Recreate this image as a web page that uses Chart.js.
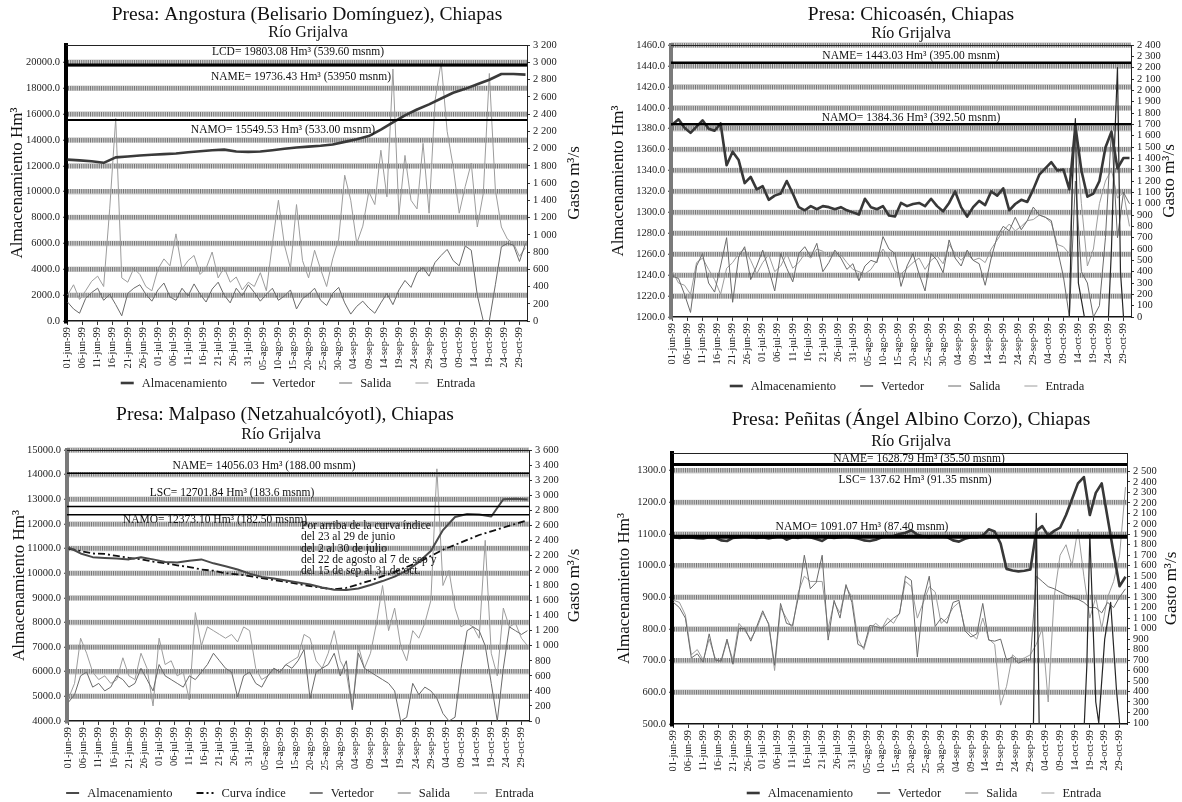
<!DOCTYPE html>
<html lang="es">
<head>
<meta charset="utf-8">
<title>Presas del Río Grijalva, junio-octubre 1999</title>
<script src="https://cdn.jsdelivr.net/npm/chart.js@4.4.1/dist/chart.umd.min.js"></script>
<style>
  html, body { margin: 0; padding: 0; background: #fff; overflow: hidden; }
  canvas { position: absolute; }
</style>
</head>
<body>
<canvas id="angostura" width="591" height="401" style="left:0;top:0"></canvas>
<canvas id="chicoasen" width="591" height="401" style="left:591px;top:0"></canvas>
<canvas id="malpaso" width="591" height="401" style="left:0;top:401px"></canvas>
<canvas id="penitas" width="591" height="401" style="left:591px;top:401px"></canvas>
<script>
const SERIF = '"Liberation Serif", "DejaVu Serif", serif';

// x axis: one tick every 5 days from 01-jun-99 (day 0) to 29-oct-99 (day 150)
const dateTicks = ['01-jun-99', '06-jun-99', '11-jun-99', '16-jun-99', '21-jun-99', '26-jun-99',
  '01-jul-99', '06-jul-99', '11-jul-99', '16-jul-99', '21-jul-99', '26-jul-99', '31-jul-99',
  '05-ago-99', '10-ago-99', '15-ago-99', '20-ago-99', '25-ago-99', '30-ago-99',
  '04-sep-99', '09-sep-99', '14-sep-99', '19-sep-99', '24-sep-99', '29-sep-99',
  '04-oct-99', '09-oct-99', '14-oct-99', '19-oct-99', '24-oct-99', '29-oct-99'];

// ---------- Angostura ----------
const angYTicks = [0, 2000, 4000, 6000, 8000, 10000, 12000, 14000, 16000, 18000, 20000];
const angGastoTicks = [0, 200, 400, 600, 800, 1000, 1200, 1400, 1600, 1800, 2000, 2200, 2400, 2600, 2800, 3000, 3200];
const angLevelTexts = ['LCD= 19803.08 Hm³ (539.60 msnm)', 'NAME= 19736.43 Hm³ (53950 msnm)', 'NAMO= 15549.53 Hm³ (533.00 msnm)'];
const angLevelValues = [19803.08, 19736.43, 15549.53];
// storage every 4 days (day 0..152)
const angAlm = [12480, 12420, 12350, 12230, 12650, 12720, 12800, 12850, 12900, 12950,
  13050, 13120, 13200, 13250, 13100, 13080, 13100, 13200, 13320, 13420,
  13480, 13550, 13650, 13850, 14050, 14300, 14800, 15350, 15900, 16350,
  16750, 17200, 17650, 17950, 18300, 18650, 19100, 19100, 19050];
const angVertDays = [0, 152];
const angVert = [0, 0];
// flows every 2 days (day 0..152)
const angSal = [220, 140, 90, 260, 330, 380, 240, 310, 190, 60,
  320, 380, 420, 310, 230, 360, 440, 280, 240, 380,
  290, 430, 310, 220, 370, 450, 300, 210, 380, 290,
  420, 330, 230, 310, 380, 240, 290, 360, 140, 260,
  310, 380, 240, 180, 320, 390, 210, 80, 170, 230,
  150, 90, 210, 320, 190, 360, 470, 390, 560, 620,
  520, 680, 760, 830, 700, 640, 870, 820, 300, 0,
  0, 420, 860, 900, 880, 690, 900];
const angEnt = [300, 420, 250, 350, 460, 520, 400, 1300, 2350, 500,
  450, 610, 540, 400, 350, 600, 720, 640, 1010, 600,
  700, 760, 540, 610, 800, 500, 620, 450, 510, 360,
  450, 400, 560, 350, 900, 1400, 880, 610, 1350, 700,
  500, 820, 600, 400, 720, 950, 1690, 1400, 900, 1100,
  1500, 1350, 1980, 1440, 2920, 1230, 1920, 1400, 1300, 2060,
  1250, 2560, 3000, 2200, 1790, 1250, 1560, 1830, 1090, 1480,
  2870, 1520, 1090, 950, 900, 750, 850];

// ---------- Chicoasén ----------
const chiYTicks = [1200, 1220, 1240, 1260, 1280, 1300, 1320, 1340, 1360, 1380, 1400, 1420, 1440, 1460];
const chiGastoTicks = [0, 100, 200, 300, 400, 500, 600, 700, 800, 900, 1000, 1100, 1200, 1300, 1400, 1500,
  1600, 1700, 1800, 1900, 2000, 2100, 2200, 2300, 2400];
const chiLevelTexts = ['NAME= 1443.03 Hm³ (395.00 msnm)', 'NAMO= 1384.36 Hm³ (392.50 msnm)'];
const chiLevelValues = [1443.03, 1384.36];
const chiAlm = [1384, 1389, 1381, 1376, 1382, 1388, 1380, 1378, 1385, 1345,
  1358, 1350, 1328, 1334, 1322, 1325, 1312, 1316, 1318, 1330,
  1318, 1305, 1302, 1306, 1303, 1306, 1305, 1303, 1305, 1302,
  1300, 1298, 1313, 1305, 1303, 1306, 1297, 1296, 1309, 1306,
  1308, 1309, 1306, 1313, 1306, 1301, 1309, 1320, 1305, 1296,
  1305, 1311, 1307, 1320, 1316, 1323, 1302, 1308, 1312, 1310,
  1322, 1336, 1342, 1348, 1340, 1341, 1322, 1383, 1340, 1315,
  1318, 1330, 1362, 1377, 1342, 1352, 1352];
const chiVertDays = [0, 132, 133, 134, 135, 137, 145, 146, 147, 148, 149, 150, 152];
const chiVert = [0, 0, 1200, 1750, 300, 0, 0, 600, 1500, 2200, 400, 0, 0];
const chiSal = [360, 340, 200, 40, 450, 560, 300, 220, 450, 700,
  130, 530, 620, 330, 450, 590, 420, 230, 560, 430,
  310, 560, 620, 530, 650, 400, 480, 590, 520, 420,
  470, 320, 450, 500, 480, 710, 600, 560, 270, 450,
  560, 380, 230, 560, 500, 390, 680, 520, 450, 590,
  500, 470, 280, 520, 710, 800, 760, 880, 770, 850,
  970, 900, 880, 850, 600, 360, 0, 1200, 400, 300,
  0, 100, 700, 1650, 700, 1100, 1000];
const chiEnt = [400, 300, 280, 200, 480, 520, 420, 330, 200, 430,
  480, 560, 600, 500, 380, 480, 550, 400, 450, 560,
  430, 480, 560, 520, 600, 580, 530, 560, 550, 480,
  420, 400, 380, 420, 500, 600, 520, 400, 380, 430,
  480, 520, 420, 500, 540, 470, 640, 560, 500, 560,
  500, 520, 480, 600, 680, 760, 820, 760, 800, 850,
  860, 900, 880, 830, 640, 620, 560, 1700, 1000, 450,
  600, 1000, 1200, 1300, 1050, 1100, 800];

// ---------- Malpaso ----------
const malYTicks = [4000, 5000, 6000, 7000, 8000, 9000, 10000, 11000, 12000, 13000, 14000, 15000];
const malGastoTicks = [0, 200, 400, 600, 800, 1000, 1200, 1400, 1600, 1800, 2000, 2200, 2400, 2600, 2800, 3000, 3200, 3400, 3600];
const malLevelTexts = ['NAME= 14056.03 Hm³ (188.00 msnm)', 'LSC= 12701.84 Hm³ (183.6 msnm)', 'NAMO= 12373.10 Hm³ (182.50 msnm)'];
const malLevelValues = [14056.03, 12701.84, 12373.10];
const malNotes = ['Por arriba de la curva índice', 'del 23 al 29 de junio', 'del 2 al 30 de julio',
  'del 22 de agosto al 7 de sep y', 'del 15 de sep al 31 de oct.'];
// storage and index curve every 4 days
const malAlm = [11050, 10800, 10650, 10620, 10600, 10560, 10650, 10560, 10450, 10430,
  10500, 10560, 10400, 10280, 10150, 9980, 9850, 9780, 9700, 9620,
  9540, 9420, 9330, 9320, 9380, 9520, 9680, 9860, 10100, 10450,
  10900, 11750, 12280, 12400, 12380, 12300, 13000, 13020, 12990];
const malCurva = [11000, 10900, 10800, 10780, 10700, 10620, 10560, 10470, 10400, 10320,
  10250, 10150, 10100, 10000, 9950, 9880, 9800, 9720, 9650, 9560,
  9480, 9400, 9350, 9400, 9550, 9700, 9880, 10050, 10250, 10450,
  10700, 10950, 11150, 11350, 11550, 11700, 11850, 12000, 12150];
const malVertDays = [0, 152];
const malVert = [0, 0];
const malSal = [250, 350, 600, 650, 450, 500, 400, 450, 600, 550,
  450, 500, 700, 550, 400, 750, 600, 550, 500, 450,
  600, 550, 650, 750, 900, 800, 700, 650, 320, 600,
  650, 500, 450, 600, 700, 650, 750, 700, 800, 950,
  300, 650, 700, 750, 900, 600, 800, 150, 900, 700,
  650, 600, 550, 500, 400, 0, 50, 500, 350, 450,
  400, 300, 100, 0, 50, 700, 1200, 1250, 1200, 1000,
  500, 0, 700, 1250, 1200, 1150, 1200];
const malEnt = [300, 500, 1100, 900, 650, 550, 600, 500, 550, 840,
  600, 550, 900, 700, 200, 1100, 750, 800, 600, 650,
  280, 1440, 1000, 1250, 1200, 1150, 1100, 1150, 1050, 1250,
  1200, 700, 550, 600, 700, 650, 750, 800, 850, 1150,
  1100, 800, 700, 900, 1200, 800, 650, 150, 1000, 700,
  900, 1300, 1800, 1200, 1500, 1000, 800, 1200, 1100, 1300,
  1600, 3350, 1800, 2000, 1500, 1250, 1300, 1250, 1100, 2400,
  900, 600, 1500, 1250, 1300, 1100, 1000];

// ---------- Peñitas ----------
const penYTicks = [500, 600, 700, 800, 900, 1000, 1100, 1200, 1300];
const penGastoTicks = [100, 200, 300, 400, 500, 600, 700, 800, 900, 1000, 1100, 1200, 1300, 1400, 1500,
  1600, 1700, 1800, 1900, 2000, 2100, 2200, 2300, 2400, 2500];
const penLevelTexts = ['NAME= 1628.79 Hm³ (35.50 msnm)', 'LSC= 137.62 Hm³ (91.35 msnm)', 'NAMO= 1091.07 Hm³ (87.40 msnm)'];
// NAME and LSC are marked at the top of the storage axis in the original
const penLevelValues = [1320, 1320, 1091.07];
const penAlm = [1090, 1088, 1090, 1089, 1087, 1086, 1090, 1089, 1080, 1078,
  1088, 1090, 1092, 1090, 1088, 1090, 1086, 1090, 1094, 1082,
  1090, 1088, 1092, 1090, 1084, 1078, 1090, 1088, 1090, 1092,
  1089, 1086, 1080, 1078, 1082, 1090, 1092, 1094, 1100, 1104,
  1112, 1098, 1092, 1090, 1094, 1092, 1090, 1080, 1076, 1085,
  1090, 1090, 1095, 1115, 1108, 1070, 990, 985, 982, 984,
  988, 1110, 1125, 1095, 1110, 1120, 1160, 1210, 1260, 1280,
  1160, 1230, 1260, 1150, 1040, 935, 965];
const penVertDays = [0, 120, 121, 122, 123, 138, 139, 140, 142, 143, 145, 147, 149, 150, 152];
const penVert = [0, 0, 0, 2100, 0, 0, 650, 1900, 300, 100, 900, 1250, 400, 100, 0];
const penSal = [1250, 1200, 1100, 720, 760, 680, 950, 700, 690, 900,
  660, 1000, 1000, 880, 1020, 1170, 1040, 650, 1240, 1050,
  1030, 1300, 1700, 1380, 1440, 1700, 890, 1270, 1100, 1420,
  1250, 850, 820, 1030, 1020, 1000, 1050, 1100, 1140, 1500,
  1460, 730, 1270, 1500, 1020, 1100, 1050, 1250, 1270, 980,
  920, 950, 1240, 890, 880, 900, 700, 730, 670, 700,
  700, 1500, 1450, 1400, 1380, 1350, 1320, 1300, 1280, 1250,
  1200, 1200, 1150, 1250, 1200, 1300, 1380];
const penEnt = [1270, 1250, 1130, 750, 800, 700, 900, 720, 680, 880,
  700, 1050, 980, 900, 1000, 1150, 1050, 600, 1200, 1100,
  1000, 1350, 1500, 1450, 1450, 1450, 1000, 1250, 1150, 1400,
  1300, 900, 800, 1000, 1050, 1000, 1100, 1050, 1150, 1450,
  1400, 1100, 1250, 1400, 1350, 1050, 1100, 1200, 1250, 1000,
  950, 900, 1100, 900, 850, 270, 450, 750, 700, 720,
  750, 850, 1000, 300, 1300, 1700, 1800, 1600, 1950, 1500,
  1100, 1300, 1000, 1300, 1450, 1700, 2350];

function every(step, values) {
    return values.map((v, i) => ({x: i * step, y: v}));
}

function onDays(days, values) {
    return days.map((d, i) => ({x: d, y: values[i]}));
}

function fmtGasto(v) {
    if (v < 1000) return String(v);
    return Math.floor(v / 1000) + ' ' + String(v % 1000).padStart(3, '0');
}

function almacenamiento(data, color, width) {
    return {label: 'Almacenamiento', data: data, yAxisID: 'y', borderColor: color, borderWidth: width};
}
function curvaIndice(data) {
    return {label: 'Curva índice', data: data, yAxisID: 'y', borderColor: '#111', borderWidth: 1.8, borderDash: [7, 3, 2, 3]};
}
function vertedor(data) {
    return {label: 'Vertedor', data: data, yAxisID: 'y1', borderColor: '#262626', borderWidth: 1.2};
}
function salida(data) {
    return {label: 'Salida', data: data, yAxisID: 'y1', borderColor: '#6a6a6a', borderWidth: 1};
}
function entrada(data) {
    return {label: 'Entrada', data: data, yAxisID: 'y1', borderColor: '#9c9c9c', borderWidth: 1};
}

// titles, level lines, notes and legend
const panelDecor = {
    id: 'panelDecor',
    beforeDraw(chart) {
        const {ctx, chartArea: a, scales: {y}} = chart;
        ctx.save();
        ctx.strokeStyle = '#d0d0d0';
        ctx.lineWidth = 5.5;
        y.ticks.forEach(t => {
            if (t.value === y.min) return;
            const py = y.getPixelForValue(t.value);
            ctx.beginPath();
            ctx.moveTo(a.left, py);
            ctx.lineTo(a.right, py);
            ctx.stroke();
        });
        ctx.restore();
    },
    afterDatasetsDraw(chart, args, o) {
        const {ctx, chartArea: a, scales: {y}} = chart;
        ctx.save();
        ctx.strokeStyle = '#222';
        ctx.lineWidth = 1;
        ctx.beginPath();
        ctx.moveTo(a.left, a.top + 0.5);
        ctx.lineTo(a.right, a.top + 0.5);
        ctx.stroke();

        ctx.strokeStyle = '#000';
        ctx.fillStyle = '#111';
        ctx.font = '11.5px ' + SERIF;
        ctx.textAlign = 'center';
        ctx.textBaseline = 'middle';
        o.levels.forEach((lv, i) => {
            const py = y.getPixelForValue(o.levelValues[i]);
            if (lv.width) {
                ctx.lineWidth = lv.width;
                ctx.beginPath();
                ctx.moveTo(a.left, py);
                ctx.lineTo(a.right, py);
                ctx.stroke();
            }
            ctx.fillText(o.levelTexts[i], lv.x, py + lv.dy);
        });
        if (o.notes) {
            ctx.textAlign = 'left';
            o.notes.forEach((line, i) => ctx.fillText(line, o.notesX, o.notesY + i * 11.3));
        }
        ctx.restore();
    },
    afterDraw(chart, args, o) {
        const {ctx, chartArea: a} = chart;
        ctx.save();
        ctx.fillStyle = '#111';
        ctx.textAlign = 'center';
        ctx.textBaseline = 'middle';
        ctx.font = '19.5px ' + SERIF;
        ctx.fillText(o.title, o.titleX, o.titleY);
        ctx.font = '16px ' + SERIF;
        ctx.fillText('Río Grijalva', o.subX, o.subY);

        ctx.save();
        ctx.font = '17px ' + SERIF;
        ctx.translate(o.gastoX, (a.top + a.bottom) / 2);
        ctx.rotate(-Math.PI / 2);
        ctx.fillText('Gasto m³/s', 0, 0);
        ctx.restore();

        // legend
        ctx.font = '12.5px ' + SERIF;
        ctx.textAlign = 'left';
        const sym = 13, gap = 8, space = 24;
        const items = chart.data.datasets.map(ds => ({ds: ds, w: ctx.measureText(ds.label).width}));
        let total = -space;
        items.forEach(it => { total += sym + gap + it.w + space; });
        let x = o.legendX - total / 2;
        items.forEach(it => {
            const ds = it.ds;
            const symW = ds.borderDash ? sym + 4 : sym;
            ctx.strokeStyle = ds.borderColor;
            ctx.lineWidth = ds.borderWidth;
            ctx.setLineDash(ds.borderDash || []);
            ctx.beginPath();
            ctx.moveTo(x, o.legendY);
            ctx.lineTo(x + symW, o.legendY);
            ctx.stroke();
            ctx.setLineDash([]);
            ctx.fillStyle = '#222';
            ctx.fillText(ds.label, x + symW + gap, o.legendY + 0.5);
            x += symW + gap + it.w + space;
        });
        ctx.restore();
    }
};

const X_AXIS_H = 52;

function renderPanel(id, p) {
    const canvas = document.getElementById(id);
    if (!canvas) {
        console.error('Canvas element not found: ' + id);
        return;
    }
    const config = {
        type: 'line',
        data: {datasets: p.datasets},
        options: {
            responsive: false,
            animation: false,
            events: [],
            layout: {
                padding: {top: p.area.top, left: 0, right: 0, bottom: canvas.height - p.area.bottom - X_AXIS_H}
            },
            elements: {
                point: {radius: 0},
                line: {tension: 0, borderJoinStyle: 'round', fill: false}
            },
            plugins: {
                legend: {display: false},
                title: {display: false},
                tooltip: {enabled: false},
                panelDecor: p.decor
            },
            scales: {
                x: {
                    type: 'linear',
                    min: -0.5,
                    max: 152.5,
                    afterFit: s => { s.height = X_AXIS_H; },
                    afterBuildTicks: s => { s.ticks = dateTicks.map((_, i) => ({value: i * 5})); },
                    ticks: {
                        autoSkip: false,
                        minRotation: 90,
                        maxRotation: 90,
                        padding: 2,
                        color: '#222',
                        font: {size: 10.5, family: SERIF},
                        callback: (v, i) => dateTicks[i]
                    },
                    grid: {drawOnChartArea: false, drawTicks: true, tickLength: 4, color: '#333', lineWidth: 1},
                    border: {color: '#111', width: 1.5}
                },
                y: {
                    type: 'linear',
                    position: 'left',
                    min: p.yMin,
                    max: p.yMax,
                    afterFit: s => { s.width = p.area.left; },
                    afterBuildTicks: s => { s.ticks = p.yTicks.map(v => ({value: v})); },
                    ticks: {
                        autoSkip: false,
                        padding: 3,
                        color: '#222',
                        font: {size: 10.5, family: SERIF},
                        callback: v => v.toFixed(1)
                    },
                    grid: {
                        color: c => (c.tick && c.tick.value === p.yMin) ? 'rgba(0,0,0,0)' : 'rgba(100,100,100,0.85)',
                        lineWidth: 4.5,
                        tickLength: 3,
                        tickWidth: 1,
                        tickColor: '#333'
                    },
                    border: {color: p.leftBorder, width: 4, dash: [1, 1.2]},
                    title: {
                        display: true,
                        text: 'Almacenamiento Hm³',
                        color: '#111',
                        font: {size: 17, family: SERIF},
                        padding: {top: p.yTitlePad, bottom: 0}
                    }
                },
                y1: {
                    type: 'linear',
                    position: 'right',
                    min: p.gMin,
                    max: p.gMax,
                    afterFit: s => { s.width = canvas.width - p.area.right; },
                    afterBuildTicks: s => { s.ticks = p.gTicks.map(v => ({value: v})); },
                    ticks: {
                        autoSkip: false,
                        padding: 3,
                        color: '#222',
                        font: {size: 10.5, family: SERIF},
                        callback: v => fmtGasto(v)
                    },
                    grid: {drawOnChartArea: false, tickLength: 3, color: '#333', lineWidth: 1},
                    border: {color: '#222', width: 1}
                }
            }
        },
        plugins: [panelDecor]
    };
    try {
        new Chart(canvas, config);
    } catch (error) {
        console.error('Error rendering ' + id + ':', error);
    }
}

renderPanel('angostura', {
    area: {left: 66, right: 527, top: 45, bottom: 321},
    yMin: 0, yMax: 21340, yTicks: angYTicks,
    gMin: 0, gMax: 3200, gTicks: angGastoTicks,
    leftBorder: '#000', yTitlePad: 7,
    datasets: [
        almacenamiento(every(4, angAlm), '#3a3a3a', 2.6),
        vertedor(onDays(angVertDays, angVert)),
        salida(every(2, angSal)),
        entrada(every(2, angEnt))
    ],
    decor: {
        title: 'Presa: Angostura (Belisario Domínguez), Chiapas',
        titleX: 307, titleY: 15, subX: 308, subY: 33,
        gastoX: 575, legendX: 298, legendY: 383,
        levelTexts: angLevelTexts, levelValues: angLevelValues,
        levels: [{x: 298, dy: -13, width: 3}, {x: 301, dy: 11, width: 1}, {x: 283, dy: 10, width: 2}]
    }
});

renderPanel('chicoasen', {
    area: {left: 80, right: 540, top: 45, bottom: 317},
    yMin: 1200, yMax: 1460, yTicks: chiYTicks,
    gMin: 0, gMax: 2400, gTicks: chiGastoTicks,
    leftBorder: '#7a7a7a', yTitlePad: 17,
    datasets: [
        almacenamiento(every(2, chiAlm), '#383838', 2.6),
        vertedor(onDays(chiVertDays, chiVert)),
        salida(every(2, chiSal)),
        entrada(every(2, chiEnt))
    ],
    decor: {
        title: 'Presa: Chicoasén, Chiapas',
        titleX: 320, titleY: 15, subX: 320, subY: 34,
        gastoX: 579, legendX: 316, legendY: 386,
        levelTexts: chiLevelTexts, levelValues: chiLevelValues,
        levels: [{x: 320, dy: -7, width: 2.5}, {x: 320, dy: -6, width: 2.5}]
    }
});

renderPanel('malpaso', {
    area: {left: 67, right: 529, top: 49, bottom: 320},
    yMin: 4000, yMax: 15000, yTicks: malYTicks,
    gMin: 0, gMax: 3600, gTicks: malGastoTicks,
    leftBorder: '#7a7a7a', yTitlePad: 9,
    datasets: [
        almacenamiento(every(4, malAlm), '#4a4a4a', 2),
        curvaIndice(every(4, malCurva)),
        vertedor(onDays(malVertDays, malVert)),
        salida(every(2, malSal)),
        entrada(every(2, malEnt))
    ],
    decor: {
        title: 'Presa: Malpaso (Netzahualcóyotl), Chiapas',
        titleX: 285, titleY: 14, subX: 281, subY: 34,
        gastoX: 575, legendX: 298, legendY: 392,
        levelTexts: malLevelTexts, levelValues: malLevelValues,
        levels: [{x: 264, dy: -7, width: 1.5}, {x: 232, dy: -14, width: 1.5}, {x: 215, dy: 5, width: 1.5}],
        notes: malNotes, notesX: 301, notesY: 125
    }
});

renderPanel('penitas', {
    area: {left: 81, right: 536, top: 52, bottom: 323},
    yMin: 500, yMax: 1356, yTicks: penYTicks,
    gMin: 90, gMax: 2675, gTicks: penGastoTicks,
    leftBorder: '#000', yTitlePad: 23,
    datasets: [
        almacenamiento(every(2, penAlm), '#383838', 2.6),
        vertedor(onDays(penVertDays, penVert)),
        salida(every(2, penSal)),
        entrada(every(2, penEnt))
    ],
    decor: {
        title: 'Presa: Peñitas (Ángel Albino Corzo), Chiapas',
        titleX: 320, titleY: 19, subX: 320, subY: 41,
        gastoX: 581, legendX: 333, legendY: 392,
        levelTexts: penLevelTexts, levelValues: penLevelValues,
        levels: [{x: 328, dy: -5, width: 3}, {x: 324, dy: 16, width: 0}, {x: 271, dy: -10, width: 4}]
    }
});
</script>
</body>
</html>
